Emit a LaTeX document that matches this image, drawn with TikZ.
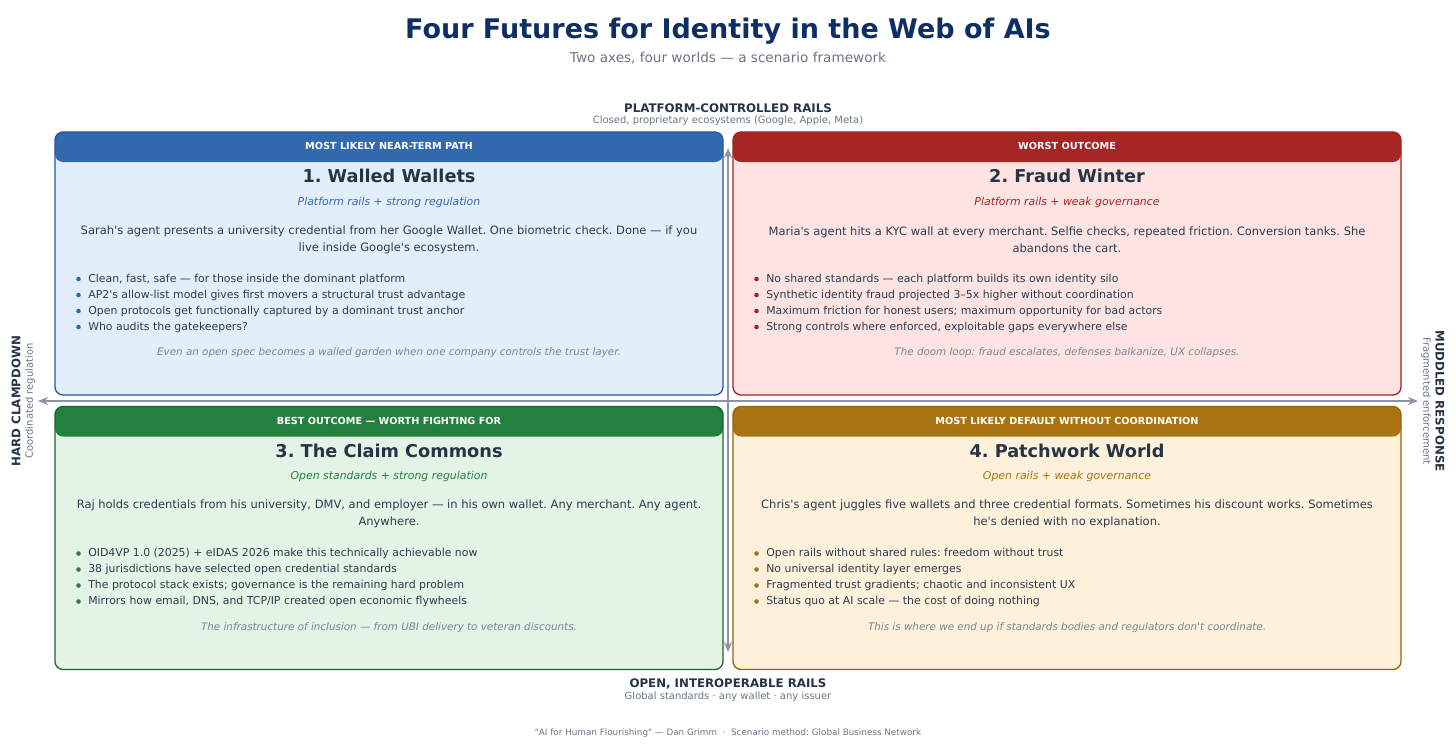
\documentclass[tikz,border=0pt]{standalone}
\usepackage{fontspec}
\setmainfont{DejaVu Sans}[Ligatures=TeXOff]
\usetikzlibrary{arrows.meta,positioning}
\definecolor{Navy}{HTML}{0E2F63}
\definecolor{Ink}{HTML}{263445}
\definecolor{Body}{HTML}{2E3B4E}
\definecolor{Muted}{HTML}{6B7585}
\definecolor{NoteGray}{HTML}{7B8494}
\definecolor{AxisGray}{HTML}{8A94A6}
\definecolor{BlueHead}{HTML}{3369AE}
\definecolor{BlueFill}{HTML}{E3EEFB}
\definecolor{BlueLine}{HTML}{25549A}
\definecolor{RedHead}{HTML}{A52622}
\definecolor{RedFill}{HTML}{FDE4E3}
\definecolor{RedLine}{HTML}{9E221E}
\definecolor{GreenHead}{HTML}{23803F}
\definecolor{GreenFill}{HTML}{E3F3E6}
\definecolor{GreenLine}{HTML}{1B6430}
\definecolor{GoldHead}{HTML}{A8740F}
\definecolor{GoldFill}{HTML}{FDF1DB}
\definecolor{GoldLine}{HTML}{93650C}
\newcommand{\fsz}[2]{\fontsize{#1}{#2}\selectfont}
\frenchspacing

\begin{document}
\begin{tikzpicture}[x=1pt,y=-1pt,every node/.style={inner sep=0pt,outer sep=0pt},
  qbox/.style={draw=#1Line,fill=#1Fill,line width=1.3pt,rounded corners=8pt,
    minimum width=668pt,minimum height=263pt,
    path picture={\fill[#1Head] (path picture bounding box.north west) rectangle ([yshift=-30pt]path picture bounding box.north east);}},
  tag/.style={text=white,font=\bfseries\fsz{9.7}{11}},
  qtitle/.style={text=Ink,font=\bfseries\fsz{17.7}{20}},
  qsub/.style={text=#1Head,font=\itshape\fsz{10.9}{13}},
  story/.style={text=Body,align=center,font=\fsz{11.5}{17}},
  dot/.style={circle,fill=#1Head,minimum size=4.6pt},
  point/.style={text=Body,anchor=west,font=\fsz{10.9}{13},text height=9pt,text depth=2.5pt},
  note/.style={text=NoteGray,font=\itshape\fsz{10.35}{12}},
  axis/.style={draw=AxisGray,line width=2pt,{Stealth[length=10pt,width=8pt]}-{Stealth[length=10pt,width=8pt]}},
  axlabel/.style={text=Ink,font=\bfseries\fsz{11.8}{14}},
  axnote/.style={text=Muted,font=\fsz{10}{11}}]
  \fill[white] (0,0) rectangle (1456,744);

  % heading
  \node[text=Navy,font=\bfseries\fsz{27}{30}] (title) at (728,31) {Four Futures for Identity in the Web of AIs};
  \node[text=Muted,font=\fsz{13.6}{16}] (subtitle) at (728,58) {Two axes, four worlds — a scenario framework};

  % quadrants
  \foreach \n/\cx/\cy/\c in {q1/389/263.5/Blue,q2/1067/263.5/Red,q3/389/538/Green,q4/1067/538/Gold}
    \node[qbox=\c] (\n) at (\cx,\cy) {};

  % axes
  \coordinate (axW) at (38,401);
  \coordinate (axE) at (1418,401);
  \coordinate (axN) at (728,148);
  \coordinate (axS) at (728,652);
  \draw[axis] (axW) -- (axE);
  \draw[axis] (axN) -- (axS);

  \node[axlabel] (toplab) at (728,108) {PLATFORM-CONTROLLED RAILS};
  \node[axnote] (topnote) at (728,121) {Closed, proprietary ecosystems (Google, Apple, Meta)};
  \node[axlabel] (botlab) at (728,684) {OPEN, INTEROPERABLE RAILS};
  \node[axnote] (botnote) at (728,697) {Global standards · any wallet · any issuer};
  \node[axlabel,rotate=90] (leftlab) at (16,401) {HARD CLAMPDOWN};
  \node[axnote,rotate=90] (leftnote) at (30,401) {Coordinated regulation};
  \node[axlabel,rotate=-90] (rightlab) at (1440,401) {MUDDLED RESPONSE};
  \node[axnote,rotate=-90] (rightnote) at (1426,401) {Fragmented enforcement};

  % 1. Walled Wallets
  \node[tag] (q1tag) at ([yshift=-14pt]q1.north) {MOST LIKELY NEAR-TERM PATH};
  \node[qtitle] (q1title) at ([yshift=-44pt]q1.north) {1. Walled Wallets};
  \node[qsub=Blue] (q1sub) at ([yshift=-70pt]q1.north) {Platform rails + strong regulation};
  \node[story] (q1story) at ([yshift=-107.5pt]q1.north) {Sarah's agent presents a university credential from her Google Wallet. One biometric check. Done — if you\\live inside Google's ecosystem.};
  \foreach \t [count=\i] in {{Clean, fast, safe — for those inside the dominant platform},
      {AP2's allow-list model gives first movers a structural trust advantage},
      {Open protocols get functionally captured by a dominant trust anchor},
      {Who audits the gatekeepers?}}{
    \node[dot=Blue] (q1dot\i) at ([xshift=23.5pt,yshift=-131pt-16pt*\i]q1.north west) {};
    \node[point,right=7.5pt of q1dot\i] (q1pt\i) {\t};
  }
  \node[note] (q1note) at ([yshift=-221pt]q1.north) {Even an open spec becomes a walled garden when one company controls the trust layer.};

  % 2. Fraud Winter
  \node[tag] (q2tag) at ([yshift=-14pt]q2.north) {WORST OUTCOME};
  \node[qtitle] (q2title) at ([yshift=-44pt]q2.north) {2. Fraud Winter};
  \node[qsub=Red] (q2sub) at ([yshift=-70pt]q2.north) {Platform rails + weak governance};
  \node[story] (q2story) at ([yshift=-107.5pt]q2.north) {Maria's agent hits a KYC wall at every merchant. Selfie checks, repeated friction. Conversion tanks. She\\abandons the cart.};
  \foreach \t [count=\i] in {{No shared standards — each platform builds its own identity silo},
      {Synthetic identity fraud projected 3–5x higher without coordination},
      {Maximum friction for honest users; maximum opportunity for bad actors},
      {Strong controls where enforced, exploitable gaps everywhere else}}{
    \node[dot=Red] (q2dot\i) at ([xshift=23.5pt,yshift=-131pt-16pt*\i]q2.north west) {};
    \node[point,right=7.5pt of q2dot\i] (q2pt\i) {\t};
  }
  \node[note] (q2note) at ([yshift=-221pt]q2.north) {The doom loop: fraud escalates, defenses balkanize, UX collapses.};

  % 3. The Claim Commons
  \node[tag] (q3tag) at ([yshift=-14pt]q3.north) {BEST OUTCOME — WORTH FIGHTING FOR};
  \node[qtitle] (q3title) at ([yshift=-44pt]q3.north) {3. The Claim Commons};
  \node[qsub=Green] (q3sub) at ([yshift=-70pt]q3.north) {Open standards + strong regulation};
  \node[story] (q3story) at ([yshift=-107.5pt]q3.north) {Raj holds credentials from his university, DMV, and employer — in his own wallet. Any merchant. Any agent.\\Anywhere.};
  \foreach \t [count=\i] in {{OID4VP 1.0 (2025) + eIDAS 2026 make this technically achievable now},
      {38 jurisdictions have selected open credential standards},
      {The protocol stack exists; governance is the remaining hard problem},
      {Mirrors how email, DNS, and TCP/IP created open economic flywheels}}{
    \node[dot=Green] (q3dot\i) at ([xshift=23.5pt,yshift=-131pt-16pt*\i]q3.north west) {};
    \node[point,right=7.5pt of q3dot\i] (q3pt\i) {\t};
  }
  \node[note] (q3note) at ([yshift=-221pt]q3.north) {The infrastructure of inclusion — from UBI delivery to veteran discounts.};

  % 4. Patchwork World
  \node[tag] (q4tag) at ([yshift=-14pt]q4.north) {MOST LIKELY DEFAULT WITHOUT COORDINATION};
  \node[qtitle] (q4title) at ([yshift=-44pt]q4.north) {4. Patchwork World};
  \node[qsub=Gold] (q4sub) at ([yshift=-70pt]q4.north) {Open rails + weak governance};
  \node[story] (q4story) at ([yshift=-107.5pt]q4.north) {Chris's agent juggles five wallets and three credential formats. Sometimes his discount works. Sometimes\\he's denied with no explanation.};
  \foreach \t [count=\i] in {{Open rails without shared rules: freedom without trust},
      {No universal identity layer emerges},
      {Fragmented trust gradients; chaotic and inconsistent UX},
      {Status quo at AI scale — the cost of doing nothing}}{
    \node[dot=Gold] (q4dot\i) at ([xshift=23.5pt,yshift=-131pt-16pt*\i]q4.north west) {};
    \node[point,right=7.5pt of q4dot\i] (q4pt\i) {\t};
  }
  \node[note] (q4note) at ([yshift=-221pt]q4.north) {This is where we end up if standards bodies and regulators don't coordinate.};

  % footer
  \node[text=Muted,font=\fsz{8.8}{10}] (footer) at (728,733) {"AI for Human Flourishing" — Dan Grimm \ · \ Scenario method: Global Business Network};
\end{tikzpicture}
\end{document}
